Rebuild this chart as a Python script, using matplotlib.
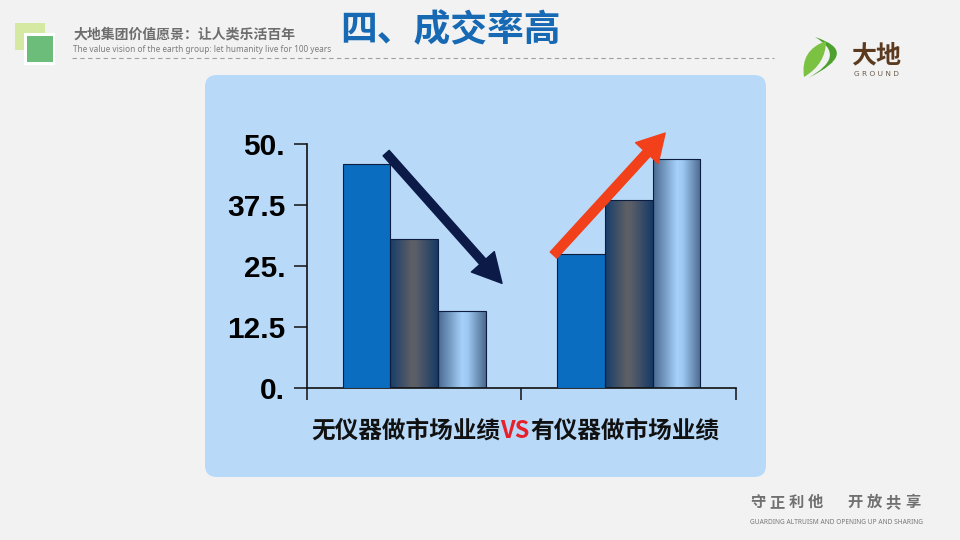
import numpy as np
import matplotlib.pyplot as plt
from matplotlib.patches import FancyBboxPatch, Rectangle, PathPatch
from matplotlib.path import Path
from matplotlib.colors import LinearSegmentedColormap

# data
categories = ["无仪器做市场业绩", "有仪器做市场业绩"]
series_a = [46.0, 27.5]
series_b = [30.5, 38.5]
series_c = [15.8, 47.0]
y_ticks = [0, 12.5, 25, 37.5, 50]
y_tick_labels = ["0.", "12.5", "25.", "37.5", "50."]

# trend arrows in data coords: (start, tip)
down_arrow = ((-0.13, 48.2), (0.41, 21.5))
up_arrow = ((0.65, 27.3), (1.17, 52.3))

W, H = 960, 540

plt.rcParams['font.family'] = ['Noto Sans CJK SC', 'DejaVu Sans']

fig = plt.figure(figsize=(9.6, 5.4), dpi=100)
fig.patch.set_facecolor('#f2f2f2')

# background layer in pixel units
bg = fig.add_axes([0, 0, 1, 1])
bg.set_xlim(0, W)
bg.set_ylim(H, 0)
bg.axis('off')

# header squares
bg.add_patch(Rectangle((15, 23), 30, 27, color='#d6e9a3', lw=0))
bg.add_patch(Rectangle((24, 33), 31, 32, color='white', lw=0))
bg.add_patch(Rectangle((27, 36), 26, 26, color='#6bbd79', lw=0))

bg.text(73, 35, "大地集团价值愿景：让人类乐活百年", fontsize=10, fontweight='bold',
        color='#6d6d6d', va='center', ha='left')
bg.text(73, 49.5, "The value vision of the earth group: let humanity live for 100 years",
        fontsize=5.95, color='#7c7c7c', va='center', ha='left', family=['Noto Sans', 'DejaVu Sans'])
bg.plot([72, 774], [57.7, 57.7], color='#a0a0a0', lw=0.8, ls=(0, (4, 3)))

bg.text(340, 31, "四、成交率高", fontsize=26.5, fontweight='bold', color='#1769b4',
        va='center', ha='left')

# logo
codes = [Path.MOVETO, Path.CURVE3, Path.CURVE3, Path.CURVE3, Path.CURVE3, Path.CLOSEPOLY]
crescent = Path([(815, 37), (862, 52), (808, 78), (848, 56), (815, 37), (815, 37)], codes)
bg.add_patch(PathPatch(crescent, color='#4ea12e', lw=0))
leaf = Path([(804, 77), (800, 50), (826, 41), (826, 64), (804, 77), (804, 77)], codes)
bg.add_patch(PathPatch(leaf, color='#7cc242', lw=0))
bg.text(876, 55, "大地", fontsize=18, fontweight='bold', color='#5b3a1f', ha='center', va='center')
bg.text(876, 74, "G R O U N D", fontsize=5.3, color='#6b5a4a', ha='center', va='center',
        family=['DejaVu Sans'])

# footer
for i, ch in enumerate("守正利他"):
    bg.text(750 + i * 19.3, 502, ch, fontsize=11, fontweight='bold', color='#707070',
            ha='left', va='center')
for i, ch in enumerate("开放共享"):
    bg.text(847 + i * 19.3, 502, ch, fontsize=11, fontweight='bold', color='#707070',
            ha='left', va='center')
bg.text(750, 523, "GUARDING ALTRUISM AND OPENING UP AND SHARING", fontsize=4.75,
        color='#777777', ha='left', va='center', family=['Noto Sans', 'DejaVu Sans'])

# chart panel
bg.add_patch(FancyBboxPatch((205, 75), 561, 402, boxstyle='round,pad=0,rounding_size=12',
                            fc='#b9d9f9', ec='none'))

# category label with red VS
bg.text(500, 431, categories[0], fontsize=17, fontweight='heavy', color='#111111',
        ha='right', va='center')
bg.text(515, 431, "VS", fontsize=17, fontweight='heavy', color='#e8202a', ha='center', va='center')
bg.text(530, 431, categories[1], fontsize=17, fontweight='heavy', color='#111111',
        ha='left', va='center')

# chart axes
ax = fig.add_axes([306.7 / W, 1 - 388.3 / H, (736 - 306.7) / W, (388.3 - 144.3) / H])
ax.set_facecolor('none')

x = np.arange(len(categories))
w = 0.222
edge = '#0c1d3f'
bars_a = ax.bar(x - w, series_a, w, color='#0b6dc0', edgecolor=edge, lw=0.8, zorder=3)
bars_b = ax.bar(x, series_b, w, color='none', edgecolor=edge, lw=0.8, zorder=3)
bars_c = ax.bar(x + w, series_c, w, color='none', edgecolor=edge, lw=0.8, zorder=3)


def gradient_fill(bars, stops):
    cmap = LinearSegmentedColormap.from_list('grad', stops)
    grad = np.linspace(0, 1, 256).reshape(1, -1)
    for b in bars:
        x0, y0, bw, bh = b.get_x(), b.get_y(), b.get_width(), b.get_height()
        im = ax.imshow(grad, cmap=cmap, extent=(x0, x0 + bw, y0, y0 + bh),
                       aspect='auto', zorder=2, interpolation='bilinear')
        im.set_clip_path(b)


gradient_fill(bars_b, [(0, '#163d6b'), (0.45, '#5e5f66'), (0.55, '#5a5e68'), (1, '#153a66')])
gradient_fill(bars_c, [(0, '#486890'), (0.5, '#a6d0f8'), (0.62, '#9ec9f2'), (1, '#4a698e')])

ax.set_xlim(-0.5, 1.5)
ax.set_ylim(0, 50)

for s in ['top', 'right']:
    ax.spines[s].set_visible(False)
for s in ['left', 'bottom']:
    ax.spines[s].set_color('#111111')
    ax.spines[s].set_linewidth(1.2)

ax.set_yticks(y_ticks, y_tick_labels, fontsize=21.5, fontweight='bold', family=['Liberation Sans'])
ax.set_xticks([-0.5, 0.5, 1.5], [])
ax.tick_params(axis='y', direction='out', length=9.5, width=1.1, color='#111111', pad=6)
ax.tick_params(axis='x', direction='out', length=8.6, width=1.1, color='#111111')

ax.annotate('', xy=down_arrow[1], xytext=down_arrow[0], annotation_clip=False,
            arrowprops=dict(arrowstyle='simple,head_length=1.6,head_width=1.7,tail_width=0.45',
                            mutation_scale=13, color='#0c1a48', shrinkA=0, shrinkB=0), zorder=5)
ax.annotate('', xy=up_arrow[1], xytext=up_arrow[0], annotation_clip=False,
            arrowprops=dict(arrowstyle='simple,head_length=1.5,head_width=1.7,tail_width=0.5',
                            mutation_scale=13, color='#f2401a', shrinkA=0, shrinkB=0), zorder=5)

fig.savefig('out.png', dpi=100)
